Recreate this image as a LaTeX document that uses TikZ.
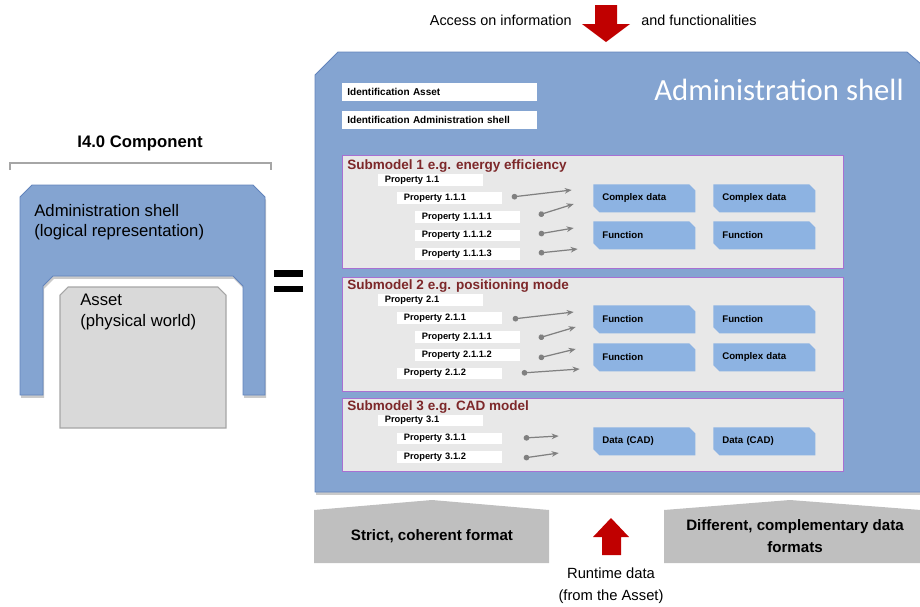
\documentclass[tikz,border=0pt]{standalone}
\usepackage{fontspec}
\setmainfont{Liberation Sans}
\newfontfamily\calibrifont{Carlito}
\usetikzlibrary{shapes.misc,arrows.meta,calc,shadows}

\definecolor{shellblue}{RGB}{132,164,209}
\definecolor{shellline}{RGB}{98,132,188}
\definecolor{datablue}{RGB}{141,179,226}
\definecolor{smfill}{RGB}{232,232,232}
\definecolor{smline}{RGB}{168,112,210}
\definecolor{smtitle}{RGB}{125,40,42}
\definecolor{formatgray}{RGB}{191,191,191}
\definecolor{assetgray}{RGB}{217,217,217}
\definecolor{arrowred}{RGB}{192,0,0}

\begin{document}
\begin{tikzpicture}[x=0.02cm,y=-0.02cm,
    shadowed/.style={drop shadow={shadow xshift=0.6pt,shadow yshift=-1.6pt,opacity=0.35,fill=black!60}},
    ident/.style={fill=white, anchor=west, minimum height=0.36cm, text width=3.7cm, inner xsep=0.1cm, inner ysep=0pt, font=\bfseries\fontsize{5.7}{6.5}\selectfont},
    submodel/.style={draw=smline, fill=smfill, line width=0.8pt, anchor=north west, minimum width=10.02cm, inner sep=0pt},
    smtext/.style={anchor=west, inner sep=0pt, text=smtitle, font=\bfseries\fontsize{7.7}{9}\selectfont},
    prop/.style={fill=white, anchor=west, minimum width=2.1cm, minimum height=0.23cm, text width=1.84cm, inner xsep=0.13cm, inner ysep=0pt, font=\bfseries\fontsize{5.3}{6}\selectfont},
    datab/.style={chamfered rectangle, chamfered rectangle corners={north east,south west}, chamfered rectangle sep=0.06cm, fill=datablue, anchor=north west, minimum height=0.56cm, text width=1.68cm, inner xsep=0.12cm, inner ysep=0pt, font=\bfseries\fontsize{5.5}{6}\selectfont},
    link/.style={draw=black!50, line width=0.7pt, {Circle[length=3.2pt]}-{Stealth[length=4pt,width=3.2pt]}},
    plain/.style={inner sep=0pt, font=\fontsize{9}{11}\selectfont}]
    \useasboundingbox (0,0) rectangle (920,606);

    % I4.0 component on the left
    \node[plain, font=\bfseries\fontsize{9.5}{11}\selectfont] (comp) at (140,143) {I4.0 Component};
    \draw[black!35, line width=0.6pt] (10,170) -- (10,163) -- (271,163) -- (271,170);
    \fill[shellblue, draw=shellline, line width=0.5pt, shadowed] (20,197) -- (32,185) -- (253,185) -- (265,197) -- (265,395) -- (243,395) -- (243,286) -- (233,276) -- (53,276) -- (43,286) -- (43,395) -- (20,395) -- cycle;
    \fill[assetgray, draw=black!35, line width=0.6pt] (60,295) -- (68,287) -- (218,287) -- (226,295) -- (226,428) -- (60,428) -- cycle;
    \node[plain, anchor=west, align=left, font=\fontsize{9.5}{11.4}\selectfont] (shelltext) at (34,222) {Administration shell\\(logical representation)};
    \node[plain, anchor=west, align=left, font=\fontsize{9.5}{11.8}\selectfont] (assettext) at (80,312) {Asset\\(physical world)};

    % equals sign
    \fill (274,270) rectangle (303,277);
    \fill (274,286) rectangle (303,292);

    % administration shell
    \fill[shellblue, draw=shellline, line width=0.5pt, shadowed] (315,75) -- (338,52) -- (907,52) -- (921,64) -- (921,492) -- (315,492) -- cycle;
    \node[anchor=east, inner sep=0pt, text=white, font=\calibrifont\fontsize{17.5}{20}\selectfont] (title) at (904,90) {Administration shell};
    \node[ident] (idasset) at (342,92) {Identification Asset};
    \node[ident] (idshell) at (342,120) {Identification Administration shell};

    % submodel 1
    \node[submodel, minimum height=2.26cm] (sm1) at (342,155) {};
    \node[smtext] (sm1title) at ($(sm1.north west)+(5,11)$) {Submodel 1 e.g. energy efficiency};
    \node[prop] (p11) at (378,180) {Property 1.1};
    \node[prop] (p111) at (397,198) {Property 1.1.1};
    \node[prop] (p1111) at (415,217) {Property 1.1.1.1};
    \node[prop] (p1112) at (415,235.5) {Property 1.1.1.2};
    \node[prop] (p1113) at (415,254) {Property 1.1.1.3};
    \node[datab] (d11) at (593,184) {Complex data};
    \node[datab] (d12) at (713,184) {Complex data};
    \node[datab] (d13) at (593,221) {Function};
    \node[datab] (d14) at (713,221) {Function};
    \draw[link] ($(p111.east)+(9,-1)$) -- ++(60,-7);
    \draw[link] ($(p1111.east)+(18,-2)$) -- ++(35,-11);
    \draw[link] ($(p1112.east)+(18,-1.5)$) -- ++(35,-6);
    \draw[link] ($(p1113.east)+(18,-1)$) -- ++(39,-4);

    % submodel 2
    \node[submodel, minimum height=2.28cm] (sm2) at (342,277) {};
    \node[smtext] (sm2title) at ($(sm2.north west)+(5,9)$) {Submodel 2 e.g. positioning mode};
    \node[prop] (p21) at (378,300) {Property 2.1};
    \node[prop] (p211) at (397,318) {Property 2.1.1};
    \node[prop] (p2111) at (415,337) {Property 2.1.1.1};
    \node[prop] (p2112) at (415,355) {Property 2.1.1.2};
    \node[prop] (p212) at (397,373.5) {Property 2.1.2};
    \node[datab] (d21) at (593,305) {Function};
    \node[datab] (d22) at (713,305) {Function};
    \node[datab] (d23) at (593,343) {Function};
    \node[datab] (d24) at (713,343) {Complex data};
    \draw[link] ($(p211.east)+(10,1)$) -- ++(61,-7);
    \draw[link] ($(p2111.east)+(18,1)$) -- ++(37,-11);
    \draw[link] ($(p2112.east)+(18,3)$) -- ++(37,-9);
    \draw[link] ($(p212.east)+(19,-0.5)$) -- ++(58,-4);

    % submodel 3
    \node[submodel, minimum height=1.46cm] (sm3) at (342,398) {};
    \node[smtext] (sm3title) at ($(sm3.north west)+(5,9)$) {Submodel 3 e.g. CAD model};
    \node[prop] (p31) at (378,420.5) {Property 3.1};
    \node[prop] (p311) at (397,438.5) {Property 3.1.1};
    \node[prop] (p312) at (397,457) {Property 3.1.2};
    \node[datab] (d31) at (593,427) {Data (CAD)};
    \node[datab] (d32) at (713,427) {Data (CAD)};
    \draw[link] ($(p311.east)+(21,-0.5)$) -- ++(35,-2);
    \draw[link] ($(p312.east)+(21,1)$) -- ++(35,-5);

    % formats below the shell
    \fill[formatgray] (314,510) -- (432,500) -- (549,510) -- (549,563) -- (314,563) -- cycle;
    \fill[formatgray] (664,510) -- (790,500) -- (921,510) -- (921,563) -- (664,563) -- cycle;
    \node[plain, font=\bfseries\fontsize{8.6}{11}\selectfont] (strict) at (432,536) {Strict, coherent format};
    \node[plain, align=center, font=\bfseries\fontsize{8.6}{12.4}\selectfont] (different) at (795,536) {Different, complementary data\\formats};

    % access and runtime data
    \fill[arrowred] (595,5) -- (617,5) -- (617,24) -- (630,24) -- (606,42) -- (582,24) -- (595,24) -- cycle;
    \node[plain, anchor=east, font=\fontsize{8.2}{10}\selectfont] (access) at (572,20) {Access on information};
    \node[plain, anchor=west, font=\fontsize{8.2}{10}\selectfont] (func) at (641,20) {and functionalities};
    \fill[arrowred] (611,518) -- (629,537) -- (621,537) -- (621,555) -- (602,555) -- (602,537) -- (593,537) -- cycle;
    \node[plain, align=center, font=\fontsize{8.4}{12.4}\selectfont] (runtime) at (611,586) {Runtime data\\(from the Asset)};
\end{tikzpicture}
\end{document}
